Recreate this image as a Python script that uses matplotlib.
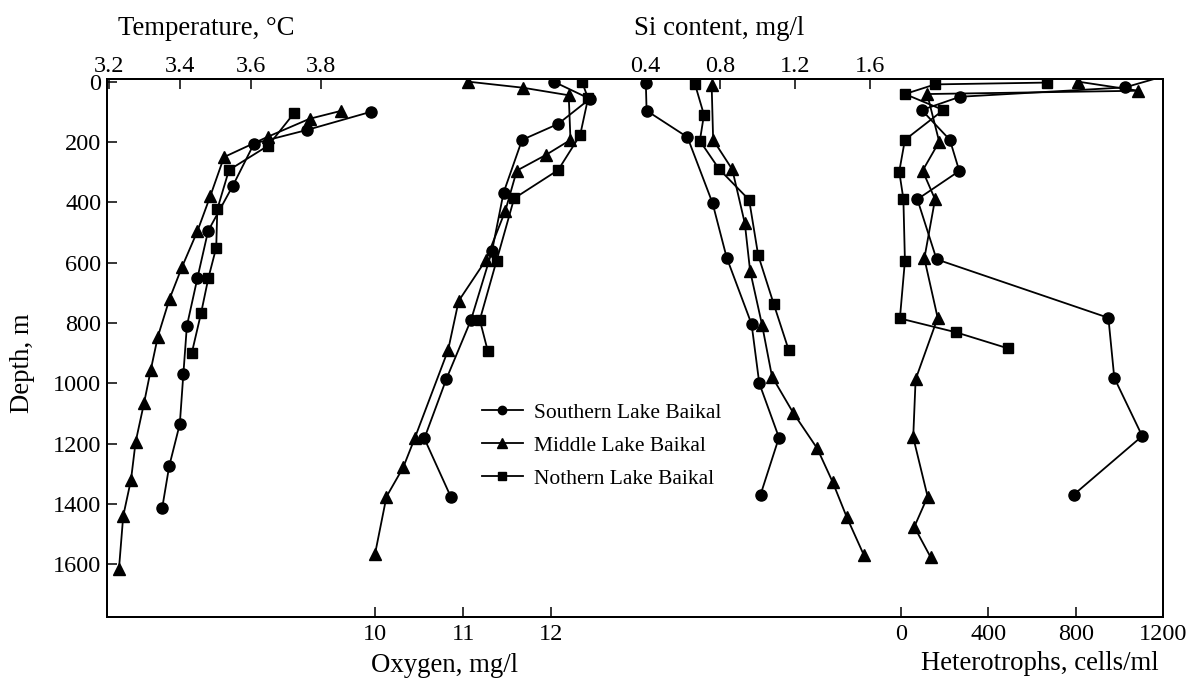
import matplotlib
matplotlib.use('Agg')
from matplotlib import pyplot as plt

plt.rcParams['font.family'] = ['Liberation Serif', 'DejaVu Serif']

series_names = ['Southern Lake Baikal', 'Middle Lake Baikal', 'Nothern Lake Baikal']
markers = ['o', '^', 's']
marker_sizes = [8, 9, 7.5]

# temperature, degC
temp_depth_s = [100, 160, 205, 345, 495, 650, 810, 970, 1135, 1275, 1415]
temp_s = [3.94, 3.76, 3.61, 3.55, 3.48, 3.45, 3.42, 3.41, 3.40, 3.37, 3.35]
temp_depth_m = [97, 123, 182, 250, 380, 495, 615, 720, 845, 955, 1065, 1195, 1320, 1440, 1615]
temp_m = [3.855, 3.767, 3.65, 3.525, 3.486, 3.45, 3.406, 3.371, 3.338, 3.318, 3.299, 3.275, 3.262, 3.24, 3.228]
temp_depth_n = [103, 212, 293, 423, 550, 650, 768, 899]
temp_n = [3.724, 3.65, 3.539, 3.506, 3.503, 3.481, 3.46, 3.434]

# oxygen, mg/l
oxy_depth_s = [0, 57, 140, 193, 368, 560, 790, 986, 1183, 1376]
oxy_s = [12.03, 12.44, 12.08, 11.67, 11.46, 11.33, 11.09, 10.81, 10.56, 10.86]
oxy_depth_m = [0, 20, 45, 193, 243, 295, 428, 591, 727, 890, 1183, 1279, 1376, 1566]
oxy_m = [11.06, 11.68, 12.20, 12.22, 11.94, 11.61, 11.48, 11.26, 10.95, 10.83, 10.45, 10.32, 10.13, 10.0]
oxy_depth_n = [0, 55, 177, 293, 387, 594, 790, 892]
oxy_n = [12.35, 12.42, 12.33, 12.08, 11.58, 11.38, 11.19, 11.28]

# Si content, mg/l
si_depth_s = [5, 96, 184, 403, 583, 804, 1000, 1180, 1369]
si_s = [0.405, 0.409, 0.627, 0.761, 0.836, 0.969, 1.010, 1.115, 1.017]
si_depth_m = [11, 193, 291, 470, 627, 807, 978, 1098, 1216, 1327, 1443, 1570]
si_m = [0.756, 0.764, 0.866, 0.933, 0.961, 1.025, 1.078, 1.191, 1.319, 1.401, 1.476, 1.568]
si_depth_n = [8, 110, 196, 290, 392, 575, 737, 890]
si_n = [0.667, 0.715, 0.693, 0.796, 0.956, 1.004, 1.087, 1.167]

# heterotrophs, cells/ml
het_depth_s = [-25, 19, 50, 94, 193, 296, 390, 589, 783, 982, 1175, 1369]
het_s = [1237, 1026, 270, 95, 224, 267, 75, 163, 950, 977, 1105, 792]
het_depth_m = [0, 30, 41, 199, 295, 390, 586, 783, 987, 1179, 1376, 1476, 1577]
het_m = [812, 1087, 120, 175, 99, 156, 107, 168, 67, 56, 122, 61, 136]
het_depth_n = [3, 9, 41, 94, 193, 298, 389, 594, 785, 831, 884]
het_n = [667, 156, 18, 194, 18, -8, 11, 18, -5, 252, 489]

depth_ticks = [0, 200, 400, 600, 800, 1000, 1200, 1400, 1600]
temp_ticks = [3.2, 3.4, 3.6, 3.8]
oxy_ticks = [10, 11, 12]
si_ticks = [0.4, 0.8, 1.2, 1.6]
het_ticks = [0, 400, 800, 1200]

fig = plt.figure(figsize=(11.95, 6.79), dpi=100)
ax = fig.add_axes([0.0895, 0.0913, 0.8837, 0.7924])
ax_oxy = ax.twiny()
ax_si = ax.twiny()
ax_het = ax.twiny()

style = dict(color='black', linewidth=1.3)

def draw(a, data):
    for (d, v), m, ms in zip(data, markers, marker_sizes):
        a.plot(v, d, marker=m, markersize=ms, **style)

draw(ax, [(temp_depth_s, temp_s), (temp_depth_m, temp_m), (temp_depth_n, temp_n)])
draw(ax_oxy, [(oxy_depth_s, oxy_s), (oxy_depth_m, oxy_m), (oxy_depth_n, oxy_n)])
draw(ax_si, [(si_depth_s, si_s), (si_depth_m, si_m), (si_depth_n, si_n)])
draw(ax_het, [(het_depth_s, het_s), (het_depth_m, het_m), (het_depth_n, het_n)])

ax.set_ylim(1775, -9)
ax.set_xlim(3.194, 6.18)
ax_oxy.set_xlim(6.955, 18.95)
ax_si.set_xlim(-2.469, 3.163)
ax_het.set_xlim(-3637, 1200)

ax.set_yticks(depth_ticks)
ax.set_xticks(temp_ticks)
ax.set_xticklabels([f'{t:.1f}' for t in temp_ticks])
ax_oxy.set_xticks(oxy_ticks)
ax_si.set_xticks(si_ticks)
ax_si.set_xticklabels([f'{t:.1f}' for t in si_ticks])
ax_het.set_xticks(het_ticks)

ax.xaxis.tick_top()
ax_si.xaxis.tick_top()
ax_oxy.xaxis.tick_bottom()
ax_het.xaxis.tick_bottom()

for a in (ax, ax_oxy, ax_si, ax_het):
    a.tick_params(direction='in', length=7, width=1.1, labelsize=17.5, pad=5)
    for s in a.spines.values():
        s.set_linewidth(1.4)
ax.tick_params(axis='x', pad=1.5)
ax_si.tick_params(axis='x', pad=1.5)
ax.tick_params(axis='y', pad=4)

ax.set_ylabel('Depth, m', fontsize=19.3, va='center')
ax.yaxis.set_label_coords(-0.0795, 0.472)
ax.set_xlabel('Temperature, °C', fontsize=19.3, va='center')
ax.xaxis.set_label_coords(0.0938, 1.094)
ax_si.set_xlabel('Si content, mg/l', fontsize=19.3, va='center')
ax_si.xaxis.set_label_coords(0.5795, 1.094)
ax_oxy.set_xlabel('Oxygen, mg/l', fontsize=19.3, va='center')
ax_oxy.xaxis.set_label_coords(0.320, -0.0892)
ax_het.set_xlabel('Heterotrophs, cells/ml', fontsize=19.3, va='center')
ax_het.xaxis.set_label_coords(0.8835, -0.0855)

handles = ax.get_lines()
ax_het.legend(handles, series_names, loc='center left', bbox_to_anchor=(0.355, 0.318),
              frameon=False, fontsize=15.5, borderpad=0, borderaxespad=0,
              handlelength=1.9, handletextpad=0.5, labelspacing=0.6, markerscale=0.75)

fig.savefig('out.png', dpi=100)
